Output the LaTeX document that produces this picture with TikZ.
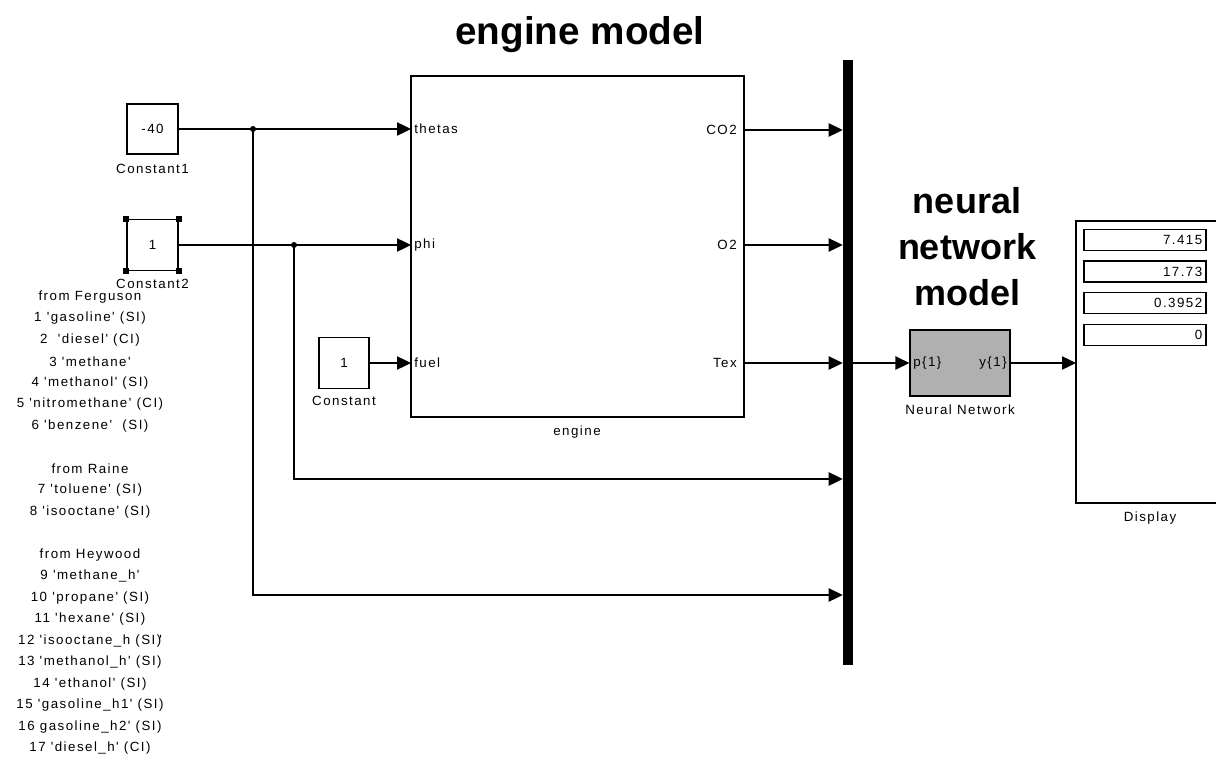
\documentclass[tikz,border=0pt]{standalone}
\usepackage{fontspec}
\setmainfont{Liberation Sans}
\newfontfamily\simfont[LetterSpace=11,Ligatures=TeXOff]{Liberation Sans}
\usetikzlibrary{arrows.meta}
\tikzset{
  wire/.style={line width=0.9pt, draw=black},
  arr/.style={wire, -{Triangle[length=10.5pt,width=10pt]}},
  blk/.style={draw=black, line width=0.9pt, inner sep=0pt, fill=white},
  lbl/.style={font=\simfont\fontsize{10}{12}\selectfont, inner sep=0pt},
  ttl/.style={font=\fontsize{28}{34}\selectfont\bfseries, anchor=base, inner sep=0pt},
  dot/.style={circle, fill=black, inner sep=0pt, minimum size=4.5pt},
  handle/.style={fill=black, inner sep=0pt, minimum size=4.5pt},
  field/.style={draw=black, line width=0.8pt, inner sep=0pt, minimum width=91.5pt, minimum height=15.75pt}
}
\begin{document}
\begin{tikzpicture}[x=0.75pt,y=-0.75pt]
\useasboundingbox (0,0) rectangle (1216,756);
\fill[white] (0,0) rectangle (1216,756);

% titles
\node[ttl, font=\fontsize{29}{34}\selectfont\bfseries] (t1) at (580,45) {engine model};
\node[ttl, font=\fontsize{27}{34}\selectfont\bfseries] (t2) at (967,213) {neural};
\node[ttl, font=\fontsize{27}{34}\selectfont\bfseries] (t3) at (967,259) {network};
\node[ttl, font=\fontsize{27}{34}\selectfont\bfseries] (t4) at (967,305) {model};

% constants
\node[blk, minimum width=38.25pt, minimum height=37.5pt, lbl] (c1) at (152.5,129) {-40};
\node[lbl] (c1l) at (152.5,169) {Constant1};
\node[blk, minimum width=38.25pt, minimum height=38.25pt, lbl] (c2) at (152.5,245) {1};
\node[lbl] (c2l) at (152.5,284) {Constant2};
\foreach \a in {north west,north east,south west,south east}
  \node[handle] (h-\a) at (c2.\a) {};
\node[blk, minimum width=37.5pt, minimum height=38.25pt, lbl] (c3) at (344,363) {1};
\node[lbl] (c3l) at (344,401) {Constant};

% engine
\node[blk, minimum width=249.75pt, minimum height=255.75pt] (eng) at (577.5,246.5) {};
\node[lbl] (engl) at (577,432) {engine};
\node[lbl, anchor=west] (pth) at (414,129) {thetas};
\node[lbl, anchor=west] (pph) at (414,245) {phi};
\node[lbl, anchor=west] (pfu) at (414,363) {fuel};
\node[lbl, anchor=east] (oco) at (737,130) {CO2};
\node[lbl, anchor=east] (oo) at (737,245) {O2};
\node[lbl, anchor=east] (ote) at (737,363) {Tex};
\coordinate (ithetas) at (411,129);
\coordinate (iphi) at (411,245);
\coordinate (ifuel) at (411,363);
\coordinate (oco2) at (744,130);
\coordinate (oo2) at (744,245);
\coordinate (otex) at (744,363);

% bus
\node[fill=black, inner sep=0pt, minimum width=7.5pt, minimum height=453.75pt] (bus) at (848,362.5) {};

% neural network
\node[blk, fill={rgb,255:red,176;green,176;blue,176}, minimum width=75pt, minimum height=49.5pt] (nn) at (960,363) {};
\node[lbl, anchor=west] (np) at (913,363) {p\{1\}};
\node[lbl, anchor=east] (ny) at (1007,363) {y\{1\}};
\node[lbl] (nnl) at (960,410) {Neural Network};

% display
\draw[wire] (1216,221) -- (1076,221) -- (1076,503) -- (1216,503);
\coordinate (disp) at (1076,363);
\node[lbl] (dl) at (1150,518) {Display};
\node[field] (f1) at (1145,240) {};
\node[field] (f2) at (1145,271.5) {};
\node[field] (f3) at (1145,303) {};
\node[field] (f4) at (1145,335) {};
\node[lbl, anchor=east] (v1) at ([xshift=-3pt]f1.east) {7.415};
\node[lbl, anchor=east] (v2) at ([xshift=-3pt]f2.east) {17.73};
\node[lbl, anchor=east] (v3) at ([xshift=-3pt]f3.east) {0.3952};
\node[lbl, anchor=east] (v4) at ([xshift=-3pt]f4.east) {0};

% wires
\coordinate (j1) at (253,129);
\coordinate (j2) at (294,245);
\draw[arr] (c1.east) -- (ithetas);
\draw[arr] (c2.east) -- (iphi);
\draw[arr] (c3.east) -- (ifuel);
\draw[arr] (j1) |- (bus.west |- 0,595);
\draw[arr] (j2) |- (bus.west |- 0,479);
\node[dot] (d1) at (j1) {};
\node[dot] (d2) at (j2) {};
\draw[arr] (oco2) -- (oco2 -| bus.west);
\draw[arr] (oo2) -- (oo2 -| bus.west);
\draw[arr] (otex) -- (otex -| bus.west);
\draw[arr] (bus.east |- nn.west) -- (nn.west);
\draw[arr] (nn.east) -- (disp);

% fuel list
\foreach \i/\t in {
 0/from Ferguson,
 1/1 'gasoline' (SI),
 2/2\ \ 'diesel' (CI),
 3/3 'methane',
 4/4 'methanol' (SI),
 5/5 'nitromethane' (CI),
 6/6 'benzene'\ \ (SI),
 8/from Raine,
 9/7 'toluene' (SI),
 10/8 'isooctane' (SI),
 12/from Heywood,
 13/9 'methane\_h',
 14/10 'propane' (SI),
 15/11 'hexane' (SI),
 16/12 'isooctane\_h (SI)\kern-1.5pt',
 17/13 'methanol\_h' (SI),
 18/14 'ethanol' (SI),
 19/15 'gasoline\_h1' (SI),
 20/16 gasoline\_h2' (SI),
 21/17 'diesel\_h' (CI)}
  \node[lbl] (fl\i) at (90,{297+21.48*\i}) {\t};
\end{tikzpicture}
\end{document}
